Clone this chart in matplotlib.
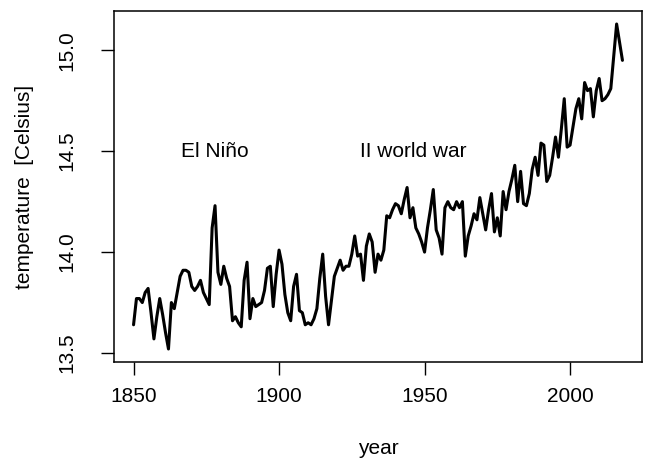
import matplotlib
matplotlib.use("Agg")
import matplotlib.pyplot as plt
import numpy as np

plt.rcParams['font.family'] = ['Liberation Sans', 'DejaVu Sans']

############# data ####################################
years = np.arange(1850, 2019)
temp = [
    13.64, 13.77, 13.77, 13.75, 13.80, 13.82, 13.70, 13.57, 13.68, 13.77,  # 1850s
    13.69, 13.60, 13.52, 13.75, 13.72, 13.80, 13.88, 13.91, 13.91, 13.90,  # 1860s
    13.83, 13.81, 13.83, 13.86, 13.80, 13.77, 13.74, 14.12, 14.23, 13.90,  # 1870s
    13.84, 13.93, 13.87, 13.83, 13.66, 13.68, 13.65, 13.63, 13.86, 13.95,  # 1880s
    13.67, 13.77, 13.73, 13.74, 13.75, 13.81, 13.92, 13.93, 13.73, 13.89,  # 1890s
    14.01, 13.94, 13.79, 13.70, 13.66, 13.83, 13.89, 13.71, 13.70, 13.64,  # 1900s
    13.65, 13.64, 13.67, 13.72, 13.87, 13.99, 13.78, 13.64, 13.76, 13.88,  # 1910s
    13.92, 13.96, 13.91, 13.93, 13.93, 13.99, 14.08, 13.98, 13.99, 13.86,  # 1920s
    14.03, 14.09, 14.05, 13.90, 13.99, 13.96, 14.01, 14.18, 14.17, 14.21,  # 1930s
    14.24, 14.23, 14.19, 14.26, 14.32, 14.17, 14.22, 14.12, 14.09, 14.05,  # 1940s
    14.00, 14.12, 14.21, 14.31, 14.11, 14.07, 13.99, 14.22, 14.25, 14.22,  # 1950s
    14.21, 14.25, 14.22, 14.25, 13.98, 14.08, 14.13, 14.19, 14.16, 14.27,  # 1960s
    14.19, 14.11, 14.21, 14.29, 14.10, 14.17, 14.08, 14.30, 14.21, 14.30,  # 1970s
    14.36, 14.43, 14.25, 14.40, 14.24, 14.23, 14.29, 14.41, 14.47, 14.38,  # 1980s
    14.54, 14.53, 14.35, 14.38, 14.47, 14.57, 14.47, 14.61, 14.76, 14.52,  # 1990s
    14.53, 14.62, 14.71, 14.76, 14.66, 14.84, 14.80, 14.81, 14.67, 14.80,  # 2000s
    14.86, 14.75, 14.76, 14.78, 14.81, 14.97, 15.13, 15.04, 14.95,         # 2010s
]
x_ticks = [1850, 1900, 1950, 2000]
y_ticks = [13.5, 14.0, 14.5, 15.0]
notes = [("El Niño", 1878, 14.5), ("II world war", 1946, 14.5)]

############# plot ###############
W, H = 647, 462
fig = plt.figure(figsize=(W / 100, H / 100), dpi=100)
ax = fig.add_axes([114 / W, 100 / H, 528 / W, 351 / H])

ax.plot(years, temp, color='black', lw=2.2,
        solid_joinstyle='round', solid_capstyle='round')

##### R style 4% padding #####
def rlim(v):
    lo, hi = min(v), max(v)
    pad = 0.04 * (hi - lo)
    return lo - pad, hi + pad

ax.set_xlim(*rlim(years))
ax.set_ylim(*rlim(temp))

for label, xx, yy in notes:
    ax.text(xx, yy, label, ha='center', va='center', fontsize=15)

ax.set_xticks(x_ticks)
ax.set_yticks(y_ticks)
ax.set_yticklabels(['%.1f' % v for v in y_ticks])
ax.tick_params(axis='both', direction='out', length=9.4, width=1.0,
               labelsize=15, color='black')
ax.tick_params(axis='x', pad=8.5)
ax.tick_params(axis='y', pad=18)
plt.setp(ax.get_yticklabels(), rotation=90, va='center')

for s in ax.spines.values():
    s.set_linewidth(1.1)

ax.set_xlabel('year', fontsize=15)
ax.set_ylabel('temperature  [Celsius]', fontsize=15)
ax.xaxis.set_label_coords(0.5, (362 - 448) / 351)
ax.yaxis.set_label_coords((25 - 114) / 528, 0.5)
ax.xaxis.label.set_va('center')
ax.yaxis.label.set_va('center')

plt.savefig('out.png', dpi=100)
